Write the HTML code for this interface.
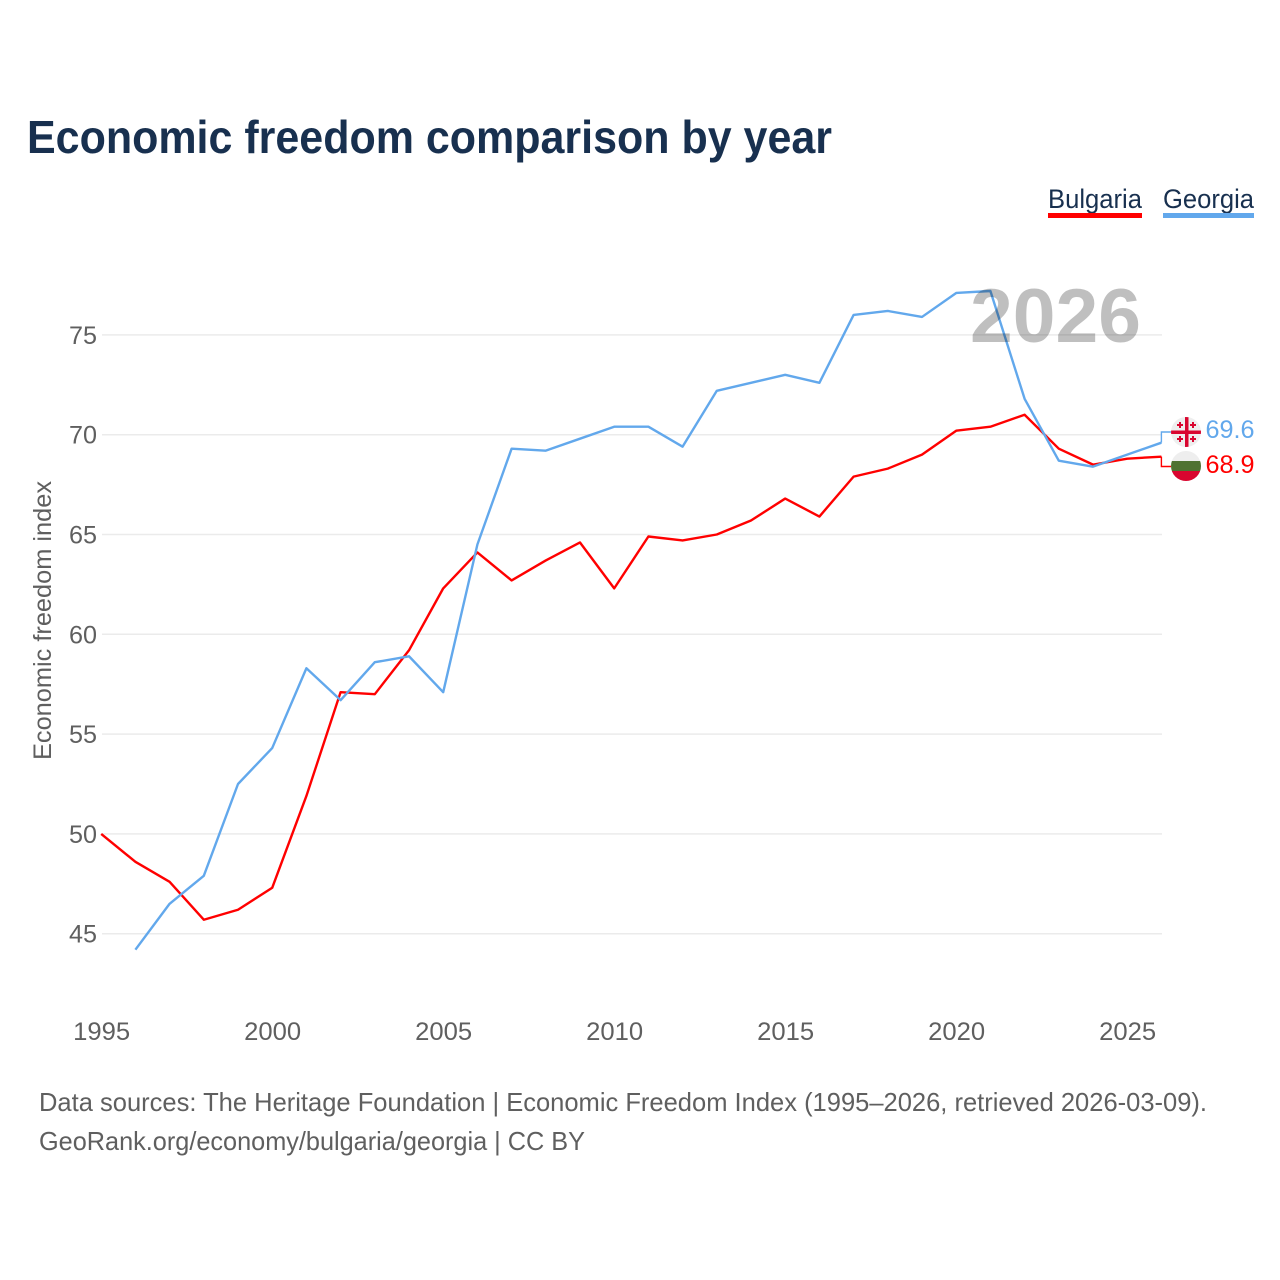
<!DOCTYPE html>
<html lang="en">
<head>
<meta charset="utf-8">
<title>Economic freedom comparison by year</title>
<style>
html,body{margin:0;padding:0;background:#fff}
svg{display:block;font-family:"Liberation Sans",sans-serif}
</style>
</head>
<body>
<svg id="chart" xmlns="http://www.w3.org/2000/svg" width="1280" height="1280" viewBox="0 0 1280 1280">
<rect width="1280" height="1280" fill="#fff"/>
<text x="27" y="153" font-size="46" font-weight="700" fill="#18304f" textLength="805" lengthAdjust="spacingAndGlyphs">Economic freedom comparison by year</text>
<g>
<text x="1048" y="208" font-size="27" fill="#18304f" textLength="94" lengthAdjust="spacingAndGlyphs">Bulgaria</text>
<rect x="1048" y="213" width="94" height="5" fill="#ff0000"/>
</g>
<g>
<text x="1163" y="208" font-size="27" fill="#18304f" textLength="91" lengthAdjust="spacingAndGlyphs">Georgia</text>
<rect x="1163" y="213" width="91" height="5" fill="#62a8ec"/>
</g>
<g id="grid"></g>
<g id="yticks"></g>
<g id="xticks"></g>
<text transform="translate(51,760) rotate(-90)" font-size="25" fill="#5f5f5f" textLength="279" lengthAdjust="spacingAndGlyphs">Economic freedom index</text>
<g id="lines"></g>
<text x="970" y="342" font-size="76" font-weight="700" fill="#000" fill-opacity="0.25" textLength="171" lengthAdjust="spacingAndGlyphs">2026</text>
<g>
<clipPath id="clipGe"><circle cx="1186" cy="432" r="15"/></clipPath>
<g clip-path="url(#clipGe)">
<rect x="1171" y="417" width="30" height="30" fill="#eeeeee"/>
<rect x="1185" y="417" width="3.500" height="30" fill="#d9062f"/>
<rect x="1171" y="430.500" width="30" height="3.500" fill="#d9062f"/>
<g fill="#d9062f">
<rect x="1179" y="422" width="2" height="6"/><rect x="1177" y="424" width="6" height="2"/>
<rect x="1192" y="422" width="2" height="6"/><rect x="1190" y="424" width="6" height="2"/>
<rect x="1179" y="436" width="2" height="6"/><rect x="1177" y="438" width="6" height="2"/>
<rect x="1192" y="436" width="2" height="6"/><rect x="1190" y="438" width="6" height="2"/>
</g>
</g>
</g>
<g>
<clipPath id="clipBg"><circle cx="1186" cy="466" r="15"/></clipPath>
<g clip-path="url(#clipBg)">
<rect x="1171" y="451" width="30" height="10" fill="#eeeeee"/>
<rect x="1171" y="461" width="30" height="10" fill="#4f7232"/>
<rect x="1171" y="471" width="30" height="10" fill="#d9062f"/>
</g>
</g>
<text x="1205.500" y="438" font-size="25" fill="#62a8ec" textLength="49" lengthAdjust="spacingAndGlyphs" id="valGe"></text>
<text x="1205.500" y="473" font-size="25" fill="#ff0000" textLength="49" lengthAdjust="spacingAndGlyphs" id="valBg"></text>
<g>
<text x="39" y="1111" font-size="26" fill="#5f5f5f" textLength="1168" lengthAdjust="spacingAndGlyphs">Data sources: The Heritage Foundation | Economic Freedom Index (1995–2026, retrieved 2026-03-09).</text>
<text x="39" y="1150" font-size="26" fill="#5f5f5f" textLength="546" lengthAdjust="spacingAndGlyphs">GeoRank.org/economy/bulgaria/georgia | CC BY</text>
</g>
</svg>
<script>
const years = [1995,1996,1997,1998,1999,2000,2001,2002,2003,2004,2005,2006,2007,2008,2009,2010,2011,2012,2013,2014,2015,2016,2017,2018,2019,2020,2021,2022,2023,2024,2025,2026];
const bulgaria = [50,48.6,47.6,45.7,46.2,47.3,51.9,57.1,57.0,59.2,62.3,64.1,62.7,63.7,64.6,62.3,64.9,64.7,65.0,65.7,66.8,65.9,67.9,68.3,69.0,70.2,70.4,71.0,69.3,68.5,68.8,68.9];
const georgia = [null,44.2,46.5,47.9,52.5,54.3,58.3,56.7,58.6,58.9,57.1,64.5,69.3,69.2,69.8,70.4,70.4,69.4,72.2,72.6,73.0,72.6,76.0,76.2,75.9,77.1,77.2,71.8,68.7,68.4,69.0,69.6];
const yTickValues = [45,50,55,60,65,70,75];
const xTickValues = [1995,2000,2005,2010,2015,2020,2025];

const NS = 'http://www.w3.org/2000/svg';
const xScale = y => 101.2 + (y - 1995) * (1161.4 - 101.2) / 31;
const yScale = v => 933.7 - (v - 45) * (933.7 - 334.9) / 30;
function make(tag, attrs, parent) {
  const el = document.createElementNS(NS, tag);
  for (const k in attrs) el.setAttribute(k, attrs[k]);
  parent.appendChild(el);
  return el;
}
const grid = document.getElementById('grid');
const yticks = document.getElementById('yticks');
const xticks = document.getElementById('xticks');
const lines = document.getElementById('lines');
yTickValues.forEach(v => {
  const gl = make('line', {x1: 102, x2: 1162, y1: yScale(v), y2: yScale(v), stroke: '#ebebeb', 'stroke-width': 1.5}, grid);
  
  
  const t = make('text', {x: 97, y: yScale(v) + 9, 'font-size': 25, fill: '#5f5f5f', 'text-anchor': 'end', textLength: 28, lengthAdjust: 'spacingAndGlyphs'}, yticks);
  
  
  t.textContent = v;
});
xTickValues.forEach(y => {
  const t = make('text', {x: xScale(y) + 0.4, y: 1040, 'font-size': 25, fill: '#5f5f5f', 'text-anchor': 'middle', textLength: 57, lengthAdjust: 'spacingAndGlyphs'}, xticks);
  
  
  t.textContent = y;
});
function seriesPath(values) {
  let d = '';
  values.forEach((v, i) => {
    if (v === null) return;
    d += (d ? 'L' : 'M') + xScale(years[i]).toFixed(2) + ' ' + yScale(v).toFixed(2);
  });
  return d;
}
const lastIndex = years.length - 1;
function connector(values, labelY) {
  const x = xScale(years[lastIndex]);
  return 'M' + x.toFixed(2) + ' ' + yScale(values[lastIndex]).toFixed(2) + 'V' + labelY + 'H1171';
}
const connGe = make('path', {d: connector(georgia, 432), fill: 'none', stroke: '#62a8ec', 'stroke-width': 1.4}, lines);


const connBg = make('path', {d: connector(bulgaria, 466.5), fill: 'none', stroke: '#ff0000', 'stroke-width': 1.4}, lines);


const lineBg = make('path', {d: seriesPath(bulgaria), fill: 'none', stroke: '#ff0000', 'stroke-width': 2.4, 'stroke-linejoin': 'round'}, lines);


const lineGe = make('path', {d: seriesPath(georgia), fill: 'none', stroke: '#62a8ec', 'stroke-width': 2.4, 'stroke-linejoin': 'round'}, lines);


document.getElementById('valGe').textContent = georgia[lastIndex].toFixed(1);
document.getElementById('valBg').textContent = bulgaria[lastIndex].toFixed(1);
</script>
</body>
</html>
